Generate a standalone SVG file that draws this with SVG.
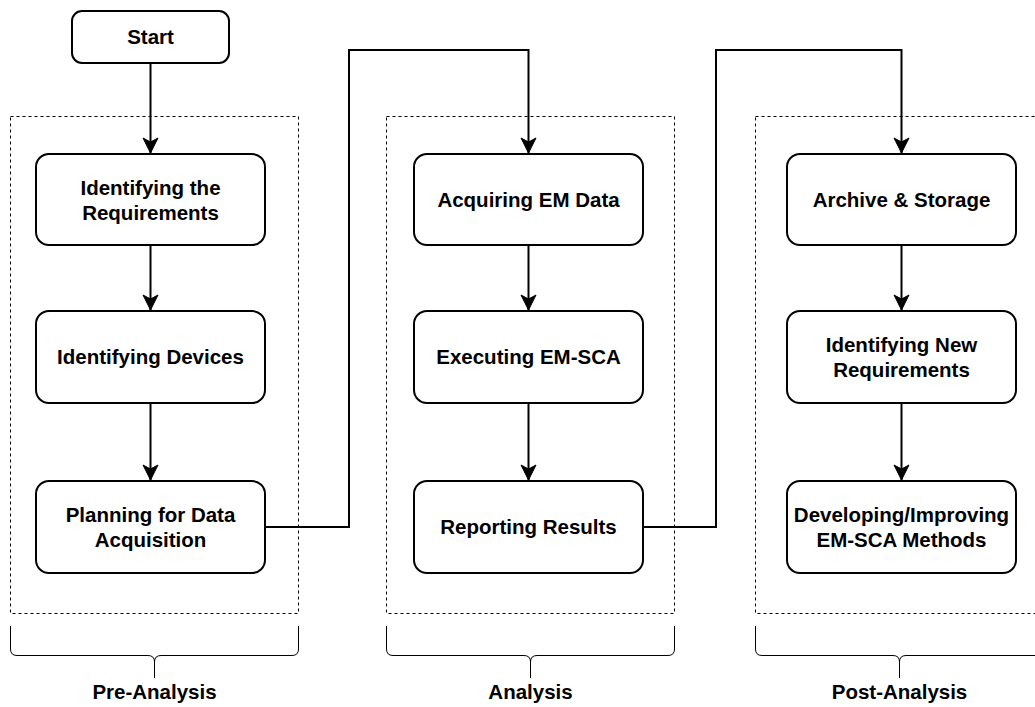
<svg xmlns="http://www.w3.org/2000/svg" width="1035" height="707" viewBox="0 0 1035 707">
  <style>
    .node { fill: #ffffff; stroke: #000000; stroke-width: 2; }
    .lbl { font-family: "Liberation Sans", Arial, Helvetica, sans-serif; font-size: 20.5px; font-weight: bold; fill: #000000; text-anchor: middle; }
    .stage { fill: none; stroke: #000000; stroke-width: 1; stroke-dasharray: 3 3; }
    .brace { fill: none; stroke: #000000; stroke-width: 1; }
    .edge { fill: none; stroke: #000000; stroke-width: 2; marker-end: url(#arrow); }
  </style>
  <defs>
    <marker id="arrow" markerUnits="userSpaceOnUse" markerWidth="18" markerHeight="18" viewBox="-16 -8 18 16" refX="0" refY="0" orient="auto">
      <path d="M0 0 L-15 -7.5 L-11 0 L-15 7.5 Z" fill="#000000" stroke="#000000" stroke-width="1" stroke-linejoin="miter"/>
    </marker>
  </defs>
  <rect width="1035" height="707" fill="#ffffff"/>

  <!-- stage frames -->
  <g id="stages">
    <rect class="stage" x="10.5" y="116.5" width="288" height="497"/>
    <rect class="stage" x="386.5" y="116.5" width="288" height="497"/>
    <rect class="stage" x="755.5" y="116.5" width="288" height="497"/>
  </g>

  <!-- curly brackets under each stage -->
  <g id="braces">
    <path class="brace" d="M10.5 626 L10.5 649 Q10.5 655.5 17 655.5 L148 655.5 Q154.5 655.5 154.5 662 L154.5 678 M298.5 626 L298.5 649 Q298.5 655.5 292 655.5 L161 655.5 Q154.5 655.5 154.5 662"/>
    <path class="brace" d="M386.5 626 L386.5 649 Q386.5 655.5 393 655.5 L524 655.5 Q530.5 655.5 530.5 662 L530.5 678 M674.5 626 L674.5 649 Q674.5 655.5 668 655.5 L537 655.5 Q530.5 655.5 530.5 662"/>
    <path class="brace" d="M755.5 626 L755.5 649 Q755.5 655.5 762 655.5 L893 655.5 Q899.5 655.5 899.5 662 L899.5 678 M1043.5 626 L1043.5 649 Q1043.5 655.5 1037 655.5 L906 655.5 Q899.5 655.5 899.5 662"/>
  </g>

  <!-- connectors -->
  <g id="connectors">
    <path class="edge" d="M150.5 63 L150.5 153"/>
    <path class="edge" d="M150.5 245 L150.5 310"/>
    <path class="edge" d="M150.5 403 L150.5 480"/>
    <path class="edge" d="M265 527 L349 527 L349 50 L528.5 50 L528.5 153"/>
    <path class="edge" d="M528.5 245 L528.5 310"/>
    <path class="edge" d="M528.5 403 L528.5 480"/>
    <path class="edge" d="M643 527 L716 527 L716 50 L901.5 50 L901.5 153"/>
    <path class="edge" d="M901.5 245 L901.5 310"/>
    <path class="edge" d="M901.5 403 L901.5 480"/>
  </g>

  <!-- nodes -->
  <g id="start">
    <rect class="node" x="72" y="11" width="157" height="52" rx="10"/>
    <text class="lbl" x="150.5" y="44">Start</text>
  </g>
  <g id="identifying-requirements">
    <rect class="node" x="36" y="154" width="229" height="91" rx="13"/>
    <text class="lbl" x="150.5" y="195">Identifying the</text>
    <text class="lbl" x="150.5" y="220">Requirements</text>
  </g>
  <g id="identifying-devices">
    <rect class="node" x="36" y="311" width="229" height="92" rx="13"/>
    <text class="lbl" x="150.5" y="364">Identifying Devices</text>
  </g>
  <g id="planning">
    <rect class="node" x="36" y="481" width="229" height="92" rx="13"/>
    <text class="lbl" x="150.5" y="522">Planning for Data</text>
    <text class="lbl" x="150.5" y="547">Acquisition</text>
  </g>

  <g id="acquiring">
    <rect class="node" x="414" y="154" width="229" height="91" rx="13"/>
    <text class="lbl" x="528.5" y="207">Acquiring EM Data</text>
  </g>
  <g id="executing">
    <rect class="node" x="414" y="311" width="229" height="92" rx="13"/>
    <text class="lbl" x="528.5" y="364">Executing EM-SCA</text>
  </g>
  <g id="reporting">
    <rect class="node" x="414" y="481" width="229" height="92" rx="13"/>
    <text class="lbl" x="528.5" y="534">Reporting Results</text>
  </g>

  <g id="archive">
    <rect class="node" x="787" y="154" width="229" height="91" rx="13"/>
    <text class="lbl" x="901.5" y="207">Archive &amp; Storage</text>
  </g>
  <g id="new-requirements">
    <rect class="node" x="787" y="311" width="229" height="92" rx="13"/>
    <text class="lbl" x="901.5" y="352">Identifying New</text>
    <text class="lbl" x="901.5" y="377">Requirements</text>
  </g>
  <g id="developing">
    <rect class="node" x="787" y="481" width="229" height="92" rx="13"/>
    <text class="lbl" x="901.5" y="522">Developing/Improving</text>
    <text class="lbl" x="901.5" y="547">EM-SCA Methods</text>
  </g>

  <!-- stage labels -->
  <g id="stage-labels">
    <text class="lbl" x="154.5" y="699">Pre-Analysis</text>
    <text class="lbl" x="530.5" y="699">Analysis</text>
    <text class="lbl" x="899.5" y="699">Post-Analysis</text>
  </g>
</svg>
